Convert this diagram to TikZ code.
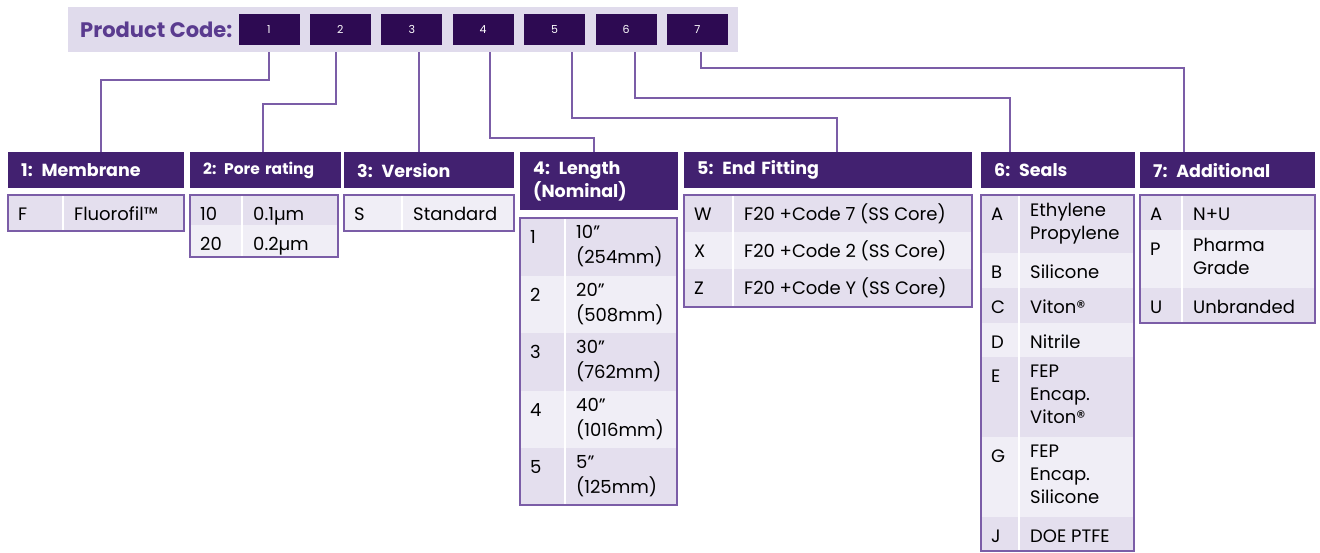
\documentclass[tikz,border=0pt]{standalone}
\usepackage{fontspec}
\setmainfont{Poppins}
\usepackage{xcolor}
\usetikzlibrary{positioning}

\definecolor{bandcol}{HTML}{E0DBEC}
\definecolor{boxcol}{HTML}{2D0A52}
\definecolor{headcol}{HTML}{422170}
\definecolor{titlecol}{HTML}{5A3B8F}
\definecolor{linkcol}{HTML}{7B5DA7}
\definecolor{rowdark}{HTML}{E4DFEE}
\definecolor{rowlight}{HTML}{F0EEF6}

% one option table: name, left, divider, right, top, bottom, rows
\newcommand{\codetable}[7]{%
  \foreach \rcode/\rval/\ry/\rh/\shade in {#7} {
    \fill[\shade] (#2,\ry) rectangle (#4,\ry+\rh);
    \node[cellcode] (#1-\rcode) at (#2+10,\ry+25.5) {\rcode};
    \node[cellval] (#1-v\rcode) at (#3+11,\ry+7.5) {\rval};
  }
  \draw[white, line width=2pt] (#3,#5) -- (#3,#6);
  \draw[tableborder] (#2,#5) rectangle (#4,#6);
}

\begin{document}
\begin{tikzpicture}[x=1pt, y=-1pt,
  codecell/.style={fill=boxcol, text=white, minimum width=61pt, minimum height=31pt, inner sep=0pt, font=\fontsize{11}{12}\selectfont},
  header/.style={fill=headcol, text=white, anchor=north west, inner xsep=13pt, inner ysep=0pt, align=left, font=\bfseries\fontsize{17.5}{23}\selectfont},
  cellcode/.style={anchor=base west, inner sep=0pt, font=\fontsize{18}{23}\selectfont},
  cellval/.style={anchor=north west, inner sep=0pt, align=left, font=\fontsize{18}{23}\selectfont,
    execute at begin node={\rule{0pt}{18pt}}},
  tableborder/.style={draw=linkcol, line width=1.5pt},
  codelink/.style={draw=linkcol, line width=2pt}]
\useasboundingbox (0,0) rectangle (1320,552);

% product code band
\node[fill=bandcol, minimum width=670pt, minimum height=45pt, inner sep=0pt, anchor=north west] (band) at (68,7) {};
\node[anchor=west, inner sep=0pt, text=titlecol, font=\bfseries\fontsize{21}{24}\selectfont] (pclabel) at (80,30) {Product Code:};
\node[codecell] (c1) at (269,29.5) {1};
\node[codecell, right=10pt of c1] (c2) {2};
\node[codecell, right=10pt of c2] (c3) {3};
\node[codecell, right=10pt of c3] (c4) {4};
\node[codecell, right=10pt of c4] (c5) {5};
\node[codecell, right=10pt of c5] (c6) {6};
\node[codecell, right=10pt of c6] (c7) {7};

% headers
\node[header, minimum width=176pt, minimum height=36pt, text width=150pt] (h1) at (8,152) {1: Membrane};
\node[header, minimum width=151pt, minimum height=36pt, text width=125pt, font=\bfseries\fontsize{15.5}{20}\selectfont] (h2) at (190,152) {2: Pore rating};
\node[header, minimum width=170pt, minimum height=36pt, text width=144pt] (h3) at (344,152) {3: Version};
\node[header, minimum width=158pt, minimum height=58pt, text width=132pt] (h4) at (520,152) {4: Length\\(Nominal)};
\node[header, minimum width=288pt, minimum height=36pt, text width=262pt] (h5) at (684,152) {5: End Fitting};
\node[header, minimum width=154pt, minimum height=36pt, text width=128pt] (h6) at (981,152) {6: Seals};
\node[header, minimum width=175pt, minimum height=36pt, text width=149pt] (h7) at (1140,152) {7: Additional};

% connectors
\draw[codelink] (c1.south |- band.south) -- ++(0,28) -| ([xshift=5pt]h1.north);
\draw[codelink] ([xshift=-4pt]c2.south |- band.south) -- ++(0,52) -| ([xshift=-2.5pt]h2.north);
\draw[codelink] ([xshift=7pt]c3.south |- band.south) -- ([xshift=7pt]c3.south |- h3.north);
\draw[codelink] ([xshift=7pt]c4.south |- band.south) -- ++(0,86) -| ([xshift=-5pt]h4.north);
\draw[codelink] ([xshift=17pt]c5.south |- band.south) -- ++(0,66) -| ([xshift=9pt]h5.north);
\draw[codelink] ([xshift=9pt]c6.south |- band.south) -- ++(0,46) -| ([xshift=29pt]h6.north west);
\draw[codelink] ([xshift=4pt]c7.south |- band.south) -- ++(0,16) -| ([xshift=44pt]h7.north west);

% option tables
\codetable{t1}{8}{63}{184}{195}{231}{F/{Fluorofil™}/195/36/rowdark}
\codetable{t2}{190}{242}{338}{195}{257}{10/{0.1µm}/195/30/rowdark, 20/{0.2µm}/225/32/rowlight}
\codetable{t3}{344}{402}{514}{195}{231}{S/Standard/195/36/rowlight}
\codetable{t4}{520}{565}{677}{218}{505}{1/{10''\\[2pt](254mm)}/218/57.5/rowdark,
  2/{20''\\[2pt](508mm)}/275.5/57.5/rowlight, 3/{30''\\[2pt](762mm)}/333/57.5/rowdark,
  4/{40''\\[2pt](1016mm)}/390.5/57.5/rowlight, 5/{5''\\[2pt](125mm)}/448/57/rowdark}
\codetable{t5}{684}{733}{972}{195}{307}{W/{F20 +Code 7 (SS Core)}/195/37/rowdark,
  X/{F20 +Code 2 (SS Core)}/232/37/rowlight, Z/{F20 +Code Y (SS Core)}/269/38/rowdark}
\codetable{t6}{981}{1019}{1134}{195}{551}{A/{Ethylene\\Propylene}/195/58/rowdark,
  B/Silicone/253/35/rowlight, C/{Viton®}/288/35/rowdark, D/Nitrile/323/34/rowlight,
  E/{FEP\\Encap.\\Viton®}/357/80/rowdark, G/{FEP\\Encap.\\Silicone}/437/80/rowlight,
  J/{DOE PTFE}/517/34/rowdark}
\codetable{t7}{1140}{1182}{1315}{195}{323}{A/{N+U}/195/35/rowdark,
  P/{Pharma\\Grade}/230/58/rowlight, U/Unbranded/288/35/rowdark}
\end{tikzpicture}
\end{document}
